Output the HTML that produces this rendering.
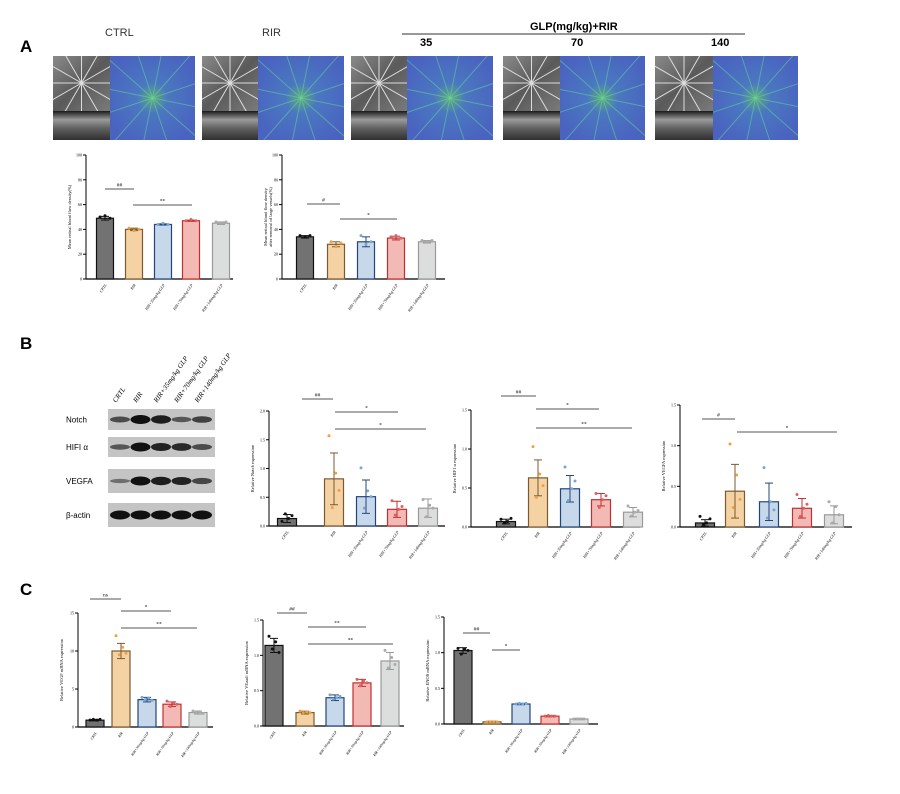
<!DOCTYPE html>
<html><head><meta charset="utf-8"><style>
html,body{margin:0;padding:0;background:#fff;}
svg{display:block;font-family:"Liberation Serif",serif;}
</style></head><body>
<svg id="s" width="900" height="794" viewBox="0 0 900 794" xmlns="http://www.w3.org/2000/svg">
<defs>
<linearGradient id="fund" x1="0" y1="0" x2="1" y2="1"><stop offset="0" stop-color="#8a8a8a"/><stop offset="0.5" stop-color="#5a5a5a"/><stop offset="1" stop-color="#7a7a7a"/></linearGradient>
<radialGradient id="blu" cx="0.5" cy="0.5" r="0.6"><stop offset="0" stop-color="#5cb07a"/><stop offset="0.3" stop-color="#4a78c0"/><stop offset="1" stop-color="#4a62c0"/></radialGradient>
<linearGradient id="oct" x1="0" y1="0" x2="0" y2="1"><stop offset="0" stop-color="#1a1a1a"/><stop offset="0.3" stop-color="#9a9a9a"/><stop offset="0.6" stop-color="#606060"/><stop offset="1" stop-color="#303030"/></linearGradient>
</defs>
<g font-family="Liberation Sans, sans-serif">
<text x="20" y="52" font-size="17" font-weight="bold">A</text>
<text x="105" y="36" font-size="11" fill="#333">CTRL</text>
<text x="262" y="36" font-size="11" fill="#333">RIR</text>
<text x="530" y="30" font-size="11" font-weight="bold">GLP(mg/kg)+RIR</text>
<line x1="402" y1="34" x2="745" y2="34" stroke="#777" stroke-width="1.5"/>
<text x="420" y="46" font-size="11" font-weight="bold">35</text>
<text x="571" y="46" font-size="11" font-weight="bold">70</text>
<text x="711" y="46" font-size="11" font-weight="bold">140</text>
<text x="20" y="349" font-size="17" font-weight="bold">B</text>
<text x="20" y="595" font-size="17" font-weight="bold">C</text>
</g>
<g id="g"></g>
</svg>
<script>
var g=document.getElementById('g'),h='';
var IT=56,IM=111,IB=140;
[[53,110,195],[202,258,344],[351,407,493],[503,560,645],[655,713,798]].forEach(function(p,n){
 h+='<clipPath id="cf'+n+'"><rect x="'+p[0]+'" y="'+IT+'" width="'+(p[1]-p[0])+'" height="'+(IM-IT)+'"/></clipPath>';
 h+='<clipPath id="cb'+n+'"><rect x="'+p[1]+'" y="'+IT+'" width="'+(p[2]-p[1])+'" height="'+(IB-IT)+'"/></clipPath>';
 h+='<rect x="'+p[0]+'" y="'+IT+'" width="'+(p[1]-p[0])+'" height="'+(IM-IT)+'" fill="url(#fund)"/>';
 h+='<rect x="'+p[0]+'" y="'+IM+'" width="'+(p[1]-p[0])+'" height="'+(IB-IM)+'" fill="url(#oct)"/>';
 h+='<rect x="'+p[1]+'" y="'+IT+'" width="'+(p[2]-p[1])+'" height="'+(IB-IT)+'" fill="url(#blu)"/>';
 var cx=(p[0]+p[1])/2,cy=83,bx=(p[1]+p[2])/2,by=98;
 h+='<g clip-path="url(#cf'+n+')">';
 for(var i=0;i<12;i++){var a=i*Math.PI/6;h+='<line x1="'+cx+'" y1="'+cy+'" x2="'+(cx+40*Math.cos(a))+'" y2="'+(cy+40*Math.sin(a))+'" stroke="#ddd" stroke-width="1"/>';}
 h+='</g><g clip-path="url(#cb'+n+')">';
 for(var i=0;i<12;i++){var a=i*Math.PI/6+0.2;h+='<line x1="'+bx+'" y1="'+by+'" x2="'+(bx+60*Math.cos(a))+'" y2="'+(by+60*Math.sin(a))+'" stroke="#6cd89a" stroke-width="1" opacity="0.5"/>';}
 h+='</g>';
});
var fill=['#727272','#f4d2a4','#c6d8ea','#f3b9b5','#dcdedd'],bor=['#111','#7a5a30','#23467a','#c03030','#999'],dot=['#111','#f0a040','#7aa6d6','#e06060','#aaa'];
var lbl=['CRTL','RIR','RIR+35mg/kg GLP','RIR+70mg/kg GLP','RIR+140mg/kg GLP'];
function chart(c){
 var ax=c.ax,top=c.top,bot=c.bot,right=c.right,max=c.max;
 function Y(v){return bot-(bot-top)*v/max;}
 h+='<line x1="'+ax+'" y1="'+top+'" x2="'+ax+'" y2="'+bot+'" stroke="#000"/>';
 h+='<line x1="'+ax+'" y1="'+bot+'" x2="'+right+'" y2="'+bot+'" stroke="#000" stroke-width="1.3"/>';
 c.ticks.forEach(function(t){var y=Y(t[0]);h+='<line x1="'+(ax-3)+'" y1="'+y+'" x2="'+ax+'" y2="'+y+'" stroke="#000"/><text x="'+(ax-4)+'" y="'+(y+1.5)+'" font-size="4" text-anchor="end">'+t[1]+'</text>';});
 var w=c.w;
 c.cx.forEach(function(x,i){var v=c.v[i],y=Y(v);
  h+='<rect x="'+(x-w/2)+'" y="'+y+'" width="'+w+'" height="'+(bot-y)+'" fill="'+fill[i]+'" stroke="'+bor[i]+'" stroke-width="1.2"/>';
  var e=c.e?c.e[i]:0;
  if(e){h+='<line x1="'+x+'" y1="'+Y(v-e)+'" x2="'+x+'" y2="'+Y(v+e)+'" stroke="'+bor[i]+'"/><line x1="'+(x-4)+'" y1="'+Y(v+e)+'" x2="'+(x+4)+'" y2="'+Y(v+e)+'" stroke="'+bor[i]+'"/><line x1="'+(x-4)+'" y1="'+Y(v-e)+'" x2="'+(x+4)+'" y2="'+Y(v-e)+'" stroke="'+bor[i]+'"/>';}
  var ds=c.d?c.d[i]:[0,0,0];
  ds.forEach(function(dv,k){h+='<circle cx="'+(x-5+k*10/(ds.length-1||1))+'" cy="'+Y(v+dv)+'" r="1.5" fill="'+dot[i]+'"/>';});
  h+='<text transform="translate('+(x+2)+','+(bot+6)+') rotate(-55)" font-size="'+(c.fs||4.5)+'" font-style="italic" text-anchor="end">'+lbl[i]+'</text>';
 });
 h+='<text transform="translate('+(ax-15)+','+((top+bot)/2)+') rotate(-90)" font-size="4.5" text-anchor="middle">'+c.yl+'</text>';
 if(c.yl2)h+='<text transform="translate('+(ax-10)+','+((top+bot)/2)+') rotate(-90)" font-size="4.5" text-anchor="middle">'+c.yl2+'</text>';
 c.sig.forEach(function(s){h+='<line x1="'+s[0]+'" y1="'+s[2]+'" x2="'+s[1]+'" y2="'+s[2]+'" stroke="#555" stroke-width="1"/><text x="'+((s[0]+s[1])/2)+'" y="'+(s[2]-2.5)+'" font-size="5.5" text-anchor="middle">'+s[3]+'</text>';});
}
var T100=[[0,'0'],[20,'20'],[40,'40'],[60,'60'],[80,'80'],[100,'100']];
var T15=[[0,'0.0'],[0.5,'0.5'],[1,'1.0'],[1.5,'1.5']];
chart({ax:86,top:155,bot:279,right:233,max:100,ticks:T100,w:17,fs:4,cx:[105,134,163,191,221],v:[49,40,44,47,45],e:[1.5,1,0.5,0.5,1],d:[[1,2,0],[1,-1,0],[0,1,0],[0,1,0],[1,0,1]],yl:'Mean retinal blood flow density(%)',sig:[[105,134,189,'##'],[133,192,205,'**']]});
chart({ax:282,top:155,bot:279,right:445,max:100,ticks:T100,w:17,fs:4,cx:[305,336,366,396,427],v:[34,28,30,33,30],e:[1,2,4,1.5,1],d:[[1,0,1],[2,-2,1],[5,-2,0],[1,2,0],[1,0,1]],yl:'Mean retinal blood flow density',yl2:'after removal of large vessels(%)',sig:[[307,340,204,'#'],[340,397,219,'*']]});
chart({ax:269,top:411,bot:526,right:445,max:2,ticks:[[0,'0.0'],[0.5,'0.5'],[1,'1.0'],[1.5,'1.5'],[2,'2.0']],w:19,fs:4,cx:[287,334,366,397,428],v:[.13,.82,.51,.29,.31],e:[.07,.45,.29,.14,.16],d:[[-.05,.08,0,.05],[.75,-.5,.1,-.2],[.5,-.2,.1,0],[.15,-.1,0,.05],[.15,-.15,.05,0]],yl:'Relative Notch expression',sig:[[302,333,399,'##'],[335,398,412,'*'],[335,426,429,'*']]});
chart({ax:471,top:410,bot:527,right:640,max:1.5,ticks:T15,w:19,fs:4,cx:[506,538,570,601,633],v:[.07,.63,.49,.35,.19],e:[.03,.23,.17,.08,.06],d:[[.03,-.02,0,.04],[.4,-.25,.05,-.1],[.28,-.15,0,.1],[.08,-.1,0,.05],[.08,-.05,0,.02]],yl:'Relative HIF1 α expression',sig:[[501,536,396,'##'],[536,599,409,'*'],[536,632,428,'**']]});
chart({ax:680,top:405,bot:527,right:852,max:1.5,ticks:T15,w:19,fs:4,cx:[705,735,769,802,834],v:[.05,.44,.31,.23,.15],e:[.04,.33,.23,.12,.11],d:[[.08,-.02,0,.05],[.58,-.2,.2,-.1],[.42,-.2,0,-.1],[.17,-.1,0,.05],[.16,-.1,.1,0]],yl:'Relative VEGFA expression',sig:[[702,735,419,'#'],[737,837,432,'*']]});
chart({ax:78,top:613,bot:727,right:213,max:15,ticks:[[0,'0'],[5,'5'],[10,'10'],[15,'15']],w:18,fs:3.6,cx:[95,121,147,172,198],v:[.9,10,3.6,3.0,1.9],e:[.1,1,.3,.3,.2],d:[[0,.1,0,.1],[2,-.5,.5,-.3],[.3,0,.2,-.1],[.4,-.3,.2,0],[.2,0,.1,-.1]],yl:'Relative VEGF mRNA expression',sig:[[90,121,599,'ns'],[121,171,611,'*'],[121,197,628,'**']]});
chart({ax:263,top:620,bot:726,right:404,max:1.5,ticks:T15,w:18,fs:3.6,cx:[274,305,335,362,390],v:[1.14,.19,.40,.61,.92],e:[.1,.02,.04,.05,.12],d:[[.13,-.05,.05,-.1],[.02,0,.01,0],[.04,-.02,0,.02],[.05,-.04,.03,0],[.15,-.1,.05,-.05]],yl:'Relative VEzadl mRNA expression',sig:[[277,307,613,'##'],[308,366,627,'**'],[308,393,644,'**']]});
chart({ax:444,top:617,bot:724,right:598,max:1.5,ticks:T15,w:18,fs:3.6,cx:[463,492,521,550,579],v:[1.03,.03,.28,.11,.07],e:[.04,.01,.01,.01,.01],d:[[.03,-.05,.02,0],[0,0,0,0],[0,.01,0,.01],[0,.01,0,0],[0,0,0,0]],yl:'Relative ENOS mRNA expression',sig:[[463,490,633,'##'],[492,520,650,'*']]});
var rows=[['Notch',409,430,[.5,1,.9,.4,.6]],['HIFI α',437,457,[.4,1,.85,.8,.5]],['VEGFA',469,493,[.2,1,.9,.85,.55]],['β-actin',503,527,[1,1,1,1,1]]];
rows.forEach(function(r){
 h+='<rect x="108" y="'+r[1]+'" width="107" height="'+(r[2]-r[1])+'" fill="#c4c4c4"/>';
 h+='<text x="66" y="'+((r[1]+r[2])/2+3)+'" font-size="8" font-family="Liberation Sans, sans-serif">'+r[0]+'</text>';
 r[3].forEach(function(a,i){var x=111+i*20.5,cy=(r[1]+r[2])/2;h+='<ellipse cx="'+(x+9)+'" cy="'+cy+'" rx="10" ry="'+(1.5+3*a)+'" fill="#111" opacity="'+(0.35+0.65*a)+'"/>';});
});
lbl.forEach(function(t,i){h+='<text transform="translate('+(116+i*20.5)+',403) rotate(-55)" font-size="7" font-style="italic">'+t+'</text>';});
g.innerHTML=h;
</script>
</body></html>
